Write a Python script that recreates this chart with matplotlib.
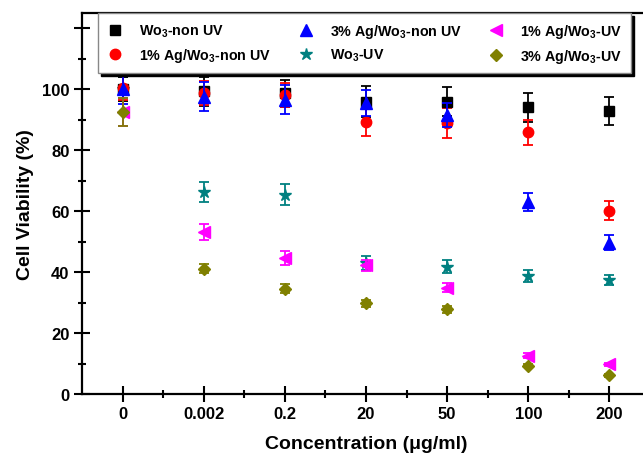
import matplotlib
matplotlib.use("Agg")
import matplotlib.pyplot as plt
from matplotlib.ticker import FixedLocator, MultipleLocator
import numpy as np

plt.rcParams['font.family'] = ['Liberation Sans', 'DejaVu Sans']
plt.rcParams['font.weight'] = 'bold'
plt.rcParams['mathtext.default'] = 'regular'

concentrations = ['0', '0.002', '0.2', '20', '50', '100', '200']

wo3_non_uv = [100.0, 99.3, 98.7, 95.9, 95.9, 94.0, 93.0]
wo3_non_uv_err = [4.0, 4.8, 4.4, 5.0, 4.7, 4.7, 4.6]
ag1_non_uv = [100.3, 98.7, 98.1, 89.4, 88.9, 85.8, 60.2]
ag1_non_uv_err = [4.0, 4.0, 4.0, 4.7, 4.8, 4.2, 3.0]
ag3_non_uv = [100.1, 97.6, 96.5, 95.5, 91.6, 62.9, 49.6]
ag3_non_uv_err = [4.8, 4.8, 4.8, 4.3, 4.0, 3.0, 2.5]
wo3_uv = [100.0, 66.2, 65.4, 43.1, 41.8, 38.7, 37.4]
wo3_uv_err = [4.0, 3.3, 3.4, 2.3, 2.0, 2.0, 1.8]
ag1_uv = [92.5, 53.1, 44.7, 42.2, 34.9, 12.5, 9.8]
ag1_uv_err = [4.5, 2.7, 2.3, 1.8, 1.5, 0.8, 0.5]
ag3_uv = [92.5, 41.1, 34.6, 29.8, 27.8, 9.3, 6.2]
ag3_uv_err = [4.7, 1.5, 1.5, 1.2, 1.2, 0.5, 0.5]

# values, errors, label, marker, colour, size, zorder
series = [
    (wo3_non_uv, wo3_non_uv_err, 'Wo$_3$-non UV', 's', 'black', 7, 2.2),
    (ag1_non_uv, ag1_non_uv_err, '1% Ag/Wo$_3$-non UV', 'o', '#ff0000', 7.5, 2.3),
    (ag3_non_uv, ag3_non_uv_err, '3% Ag/Wo$_3$-non UV', '^', '#0000ff', 8, 2.4),
    (wo3_uv, wo3_uv_err, 'Wo$_3$-UV', '*', '#008080', 9, 2.0),
    (ag1_uv, ag1_uv_err, '1% Ag/Wo$_3$-UV', '<', '#ff00ff', 8, 2.5),
    (ag3_uv, ag3_uv_err, '3% Ag/Wo$_3$-UV', 'D', '#808000', 6.5, 2.6),
]

fig = plt.figure(figsize=(6.43, 4.60), dpi=100)
# axes run a little past the right edge, like the cropped original
ax = fig.add_axes([82 / 643, 65 / 460, 568 / 643, 381 / 460])

x = np.arange(len(concentrations))
handles = []
labels = []
for vals, errs, label, marker, color, ms, z in series:
    cont = ax.errorbar(x, vals, yerr=errs, fmt=marker, color=color, ms=ms,
                       elinewidth=1.3, capsize=3.5, capthick=1.3, zorder=z)
    handles.append(cont[0])
    labels.append(label)

ax.set_xlim(-0.5, 6.5)
ax.set_ylim(0, 125)
ax.set_xticks(x)
ax.set_xticklabels(concentrations)
ax.xaxis.set_minor_locator(FixedLocator(np.arange(0.5, 6.6, 1)))
ax.set_yticks([0, 20, 40, 60, 80, 100, 120])
ax.set_yticklabels(['0', '20', '40', '60', '80', '100', ''])
ax.yaxis.set_minor_locator(MultipleLocator(10))

ax.tick_params(which='major', direction='inout', length=11, width=1.5, labelsize=12)
ax.tick_params(which='minor', direction='inout', length=6, width=1.5)
for s in ax.spines.values():
    s.set_linewidth(1.6)

ax.set_xlabel('Concentration (\u03bcg/ml)', fontsize=14, fontweight='bold', labelpad=10)
ax.set_ylabel('Cell Viability (%)', fontsize=14, fontweight='bold', labelpad=6)

leg = ax.legend(handles, labels, ncol=3, loc='upper left',
                bbox_to_anchor=(0.028, 0.85, 0.939, 0.15), mode='expand',
                borderaxespad=0, borderpad=0.6, fontsize=10.3, numpoints=1,
                handlelength=1.2, handletextpad=1.1, labelspacing=0.5,
                fancybox=False, edgecolor='#888888',
                shadow={'color': 'black', 'alpha': 1})
leg.get_frame().set_linewidth(1.0)

fig.savefig('out.png', dpi=100)
